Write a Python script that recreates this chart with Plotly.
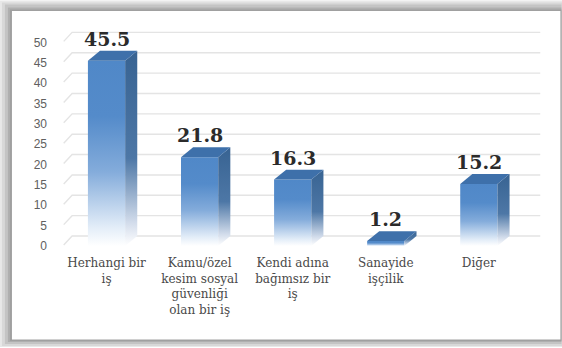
import plotly.graph_objects as go

# Survey answers and their shares (%)
categories = [
    "Herhangi bir<br>iş",
    "Kamu/özel<br>kesim sosyal<br>güvenliği<br>olan bir iş",
    "Kendi adına<br>bağımsız bir<br>iş",
    "Sanayide<br>işçilik",
    "Diğer",
]
values = [45.5, 21.8, 16.3, 1.2, 15.2]
y_ticks = [0, 5, 10, 15, 20, 25, 30, 35, 40, 45, 50]

# Pseudo-3D geometry (in axis units)
HALF_W = 0.2      # half width of a bar's front face
DEPTH_X = 0.13    # horizontal depth offset
DEPTH_Y = 2.45    # vertical depth offset

W, H = 562, 348
L, R, T, B = 60, 18.4, 21.55, 101.5
X_RANGE = [-0.5, 4.7]
Y_RANGE = [0, 55]

FRONT_SCALE = [[0, "#ffffff"], [0.1, "#e3edf8"], [0.4, "#84acdb"],
               [0.7, "#548bca"], [1, "#5088c8"]]
SIDE_SCALE = [[0, "#ffffff"], [0.12, "#d2dceb"], [0.45, "#4d77a6"],
              [1, "#386392"]]
TOP_COLOR = "#3e70aa"

fig = go.Figure()

# Back-wall gridlines, with their short side-wall segment
gx, gy = [], []
for t in y_ticks:
    gx += [X_RANGE[0] + 0.04, X_RANGE[0] + DEPTH_X, 4.66, None]
    gy += [t + DEPTH_Y * 0.1, t + DEPTH_Y, t + DEPTH_Y, None]
fig.add_trace(go.Scatter(x=gx, y=gy, mode="lines",
                         line=dict(color="#e4e4e4", width=1.4),
                         hoverinfo="skip", showlegend=False))

for i, v in enumerate(values):
    x0, x1 = i - HALF_W, i + HALF_W
    # front face
    fig.add_trace(go.Scatter(
        x=[x0, x1, x1, x0, x0], y=[0, 0, v, v, 0],
        mode="lines", line=dict(width=0), fill="toself",
        fillgradient=dict(type="vertical", colorscale=FRONT_SCALE, start=0, stop=v),
        hoverinfo="skip", showlegend=False))
    # side face
    fig.add_trace(go.Scatter(
        x=[x1, x1 + DEPTH_X, x1 + DEPTH_X, x1, x1],
        y=[0, DEPTH_Y, v + DEPTH_Y, v, 0],
        mode="lines", line=dict(width=0), fill="toself",
        fillgradient=dict(type="vertical", colorscale=SIDE_SCALE, start=0, stop=v + DEPTH_Y),
        hoverinfo="skip", showlegend=False))
    # top face
    fig.add_trace(go.Scatter(
        x=[x0, x0 + DEPTH_X, x1 + DEPTH_X, x1, x0],
        y=[v, v + DEPTH_Y, v + DEPTH_Y, v, v],
        mode="lines", line=dict(width=0), fill="toself", fillcolor=TOP_COLOR,
        hoverinfo="skip", showlegend=False))
    # value label
    fig.add_annotation(x=i, y=v, yshift=22, text=f"{v:.1f}", showarrow=False,
                       yanchor="middle", xanchor="center",
                       font=dict(family="DejaVu Serif", size=19, color="#2b2b2b",
                                 weight="bold"))

# Frame with soft shadow, in paper coordinates
pw = W - L - R
ph = H - T - B


def px(x):
    return (x - L) / pw


def py(y):
    return 1 - (y - T) / ph


frame = [
    ((0, 0, W, H), "#e8e8e8"),
    ((2, 2, W, H - 1), "#d8d8d8"),
    ((5, 4, W - 1, H - 3), "#c4c4c4"),
    ((8, 7, W - 1, H - 5), "#afafaf"),
    ((10, 9, W - 1, H - 6), "#a0a0a0"),
]
shapes = []
for (a, b, c, d), col in frame:
    shapes.append(dict(type="rect", xref="paper", yref="paper", layer="below",
                       x0=px(a), x1=px(c), y0=py(b), y1=py(d),
                       fillcolor=col, line=dict(width=0)))
shapes.append(dict(type="rect", xref="paper", yref="paper", layer="below",
                   x0=px(12), x1=px(W - 2), y0=py(10.5), y1=py(H - 7.5),
                   fillcolor="#ffffff", line=dict(width=0)))

fig.update_layout(
    width=W, height=H,
    margin=dict(l=L, r=R, t=T, b=B, pad=0),
    paper_bgcolor="#ffffff",
    plot_bgcolor="rgba(0,0,0,0)",
    shapes=shapes,
    xaxis=dict(range=X_RANGE, tickvals=list(range(len(categories))),
               ticktext=categories, showgrid=False, zeroline=False,
               showline=False, ticks="", ticklabelstandoff=8,
               tickfont=dict(family="DejaVu Serif", size=12, color="#4a4a4a")),
    yaxis=dict(range=Y_RANGE, tickvals=y_ticks, showgrid=False, zeroline=False,
               showline=False, ticks="", ticklabelstandoff=12,
               tickfont=dict(family="Liberation Sans", size=12, color="#606060")),
    font=dict(family="DejaVu Serif"),
)

fig.write_html("out.html")
